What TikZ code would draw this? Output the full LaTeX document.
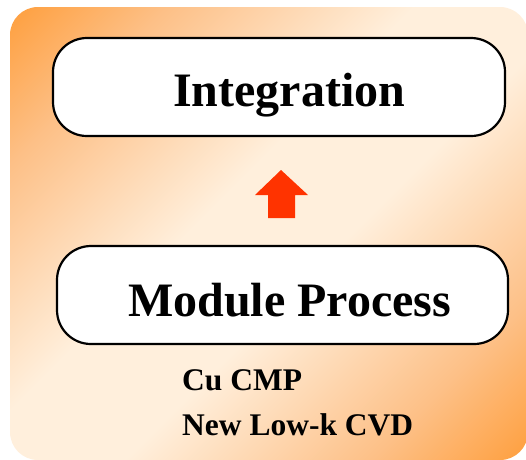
\documentclass[tikz,border=0pt]{standalone}
\usepackage{fontspec}
\setmainfont{Liberation Serif}
\definecolor{corner}{RGB}{255,140,20}
\definecolor{peach}{RGB}{253,192,135}
\definecolor{cream}{RGB}{255,239,220}
\definecolor{arrowred}{RGB}{255,51,0}
\pgfdeclarehorizontalshading{panelshade}{100bp}{
  color(0bp)=(corner); color(8bp)=(corner); color(26bp)=(peach); color(44bp)=(cream);
  color(56bp)=(cream); color(74bp)=(peach); color(92bp)=(corner); color(100bp)=(corner)}
\tikzset{
  roundbox/.style={draw=black, line width=2.2pt, fill=white, rounded corners=34pt},
  bigtext/.style={anchor=base west, inner sep=0pt, font=\fontsize{48}{48}\selectfont\bfseries},
  smalltext/.style={anchor=base west, inner sep=0pt, font=\fontsize{31.5}{31.5}\selectfont\bfseries}
}
\begin{document}
\begin{tikzpicture}[x=1pt, y=-1pt]
  % page area
  \fill[white] (0,0) rectangle (526,459);
  \useasboundingbox (0,0) rectangle (526,459);
  % shaded panel
  \shade[shading=panelshade, shading angle=-45, rounded corners=28pt]
    (10,7) rectangle (528,460);
  % the two stage boxes
  \draw[roundbox] (53,38) rectangle (505,136);
  \draw[roundbox] (57,246) rectangle (508,344);
  \node[bigtext] (integ) at (173,106) {Integration};
  \node[bigtext] (module) at (128,316) {Module Process};
  % block arrow pointing up
  \fill[arrowred] (281,170) -- (308,195) -- (295,195) -- (295,218)
    -- (268,218) -- (268,195) -- (255,195) -- cycle;
  % process items
  \node[smalltext] (cucmp) at (182,390) {Cu CMP};
  \node[smalltext] (lowk) at (182,435) {New Low-k CVD};
\end{tikzpicture}
\end{document}
